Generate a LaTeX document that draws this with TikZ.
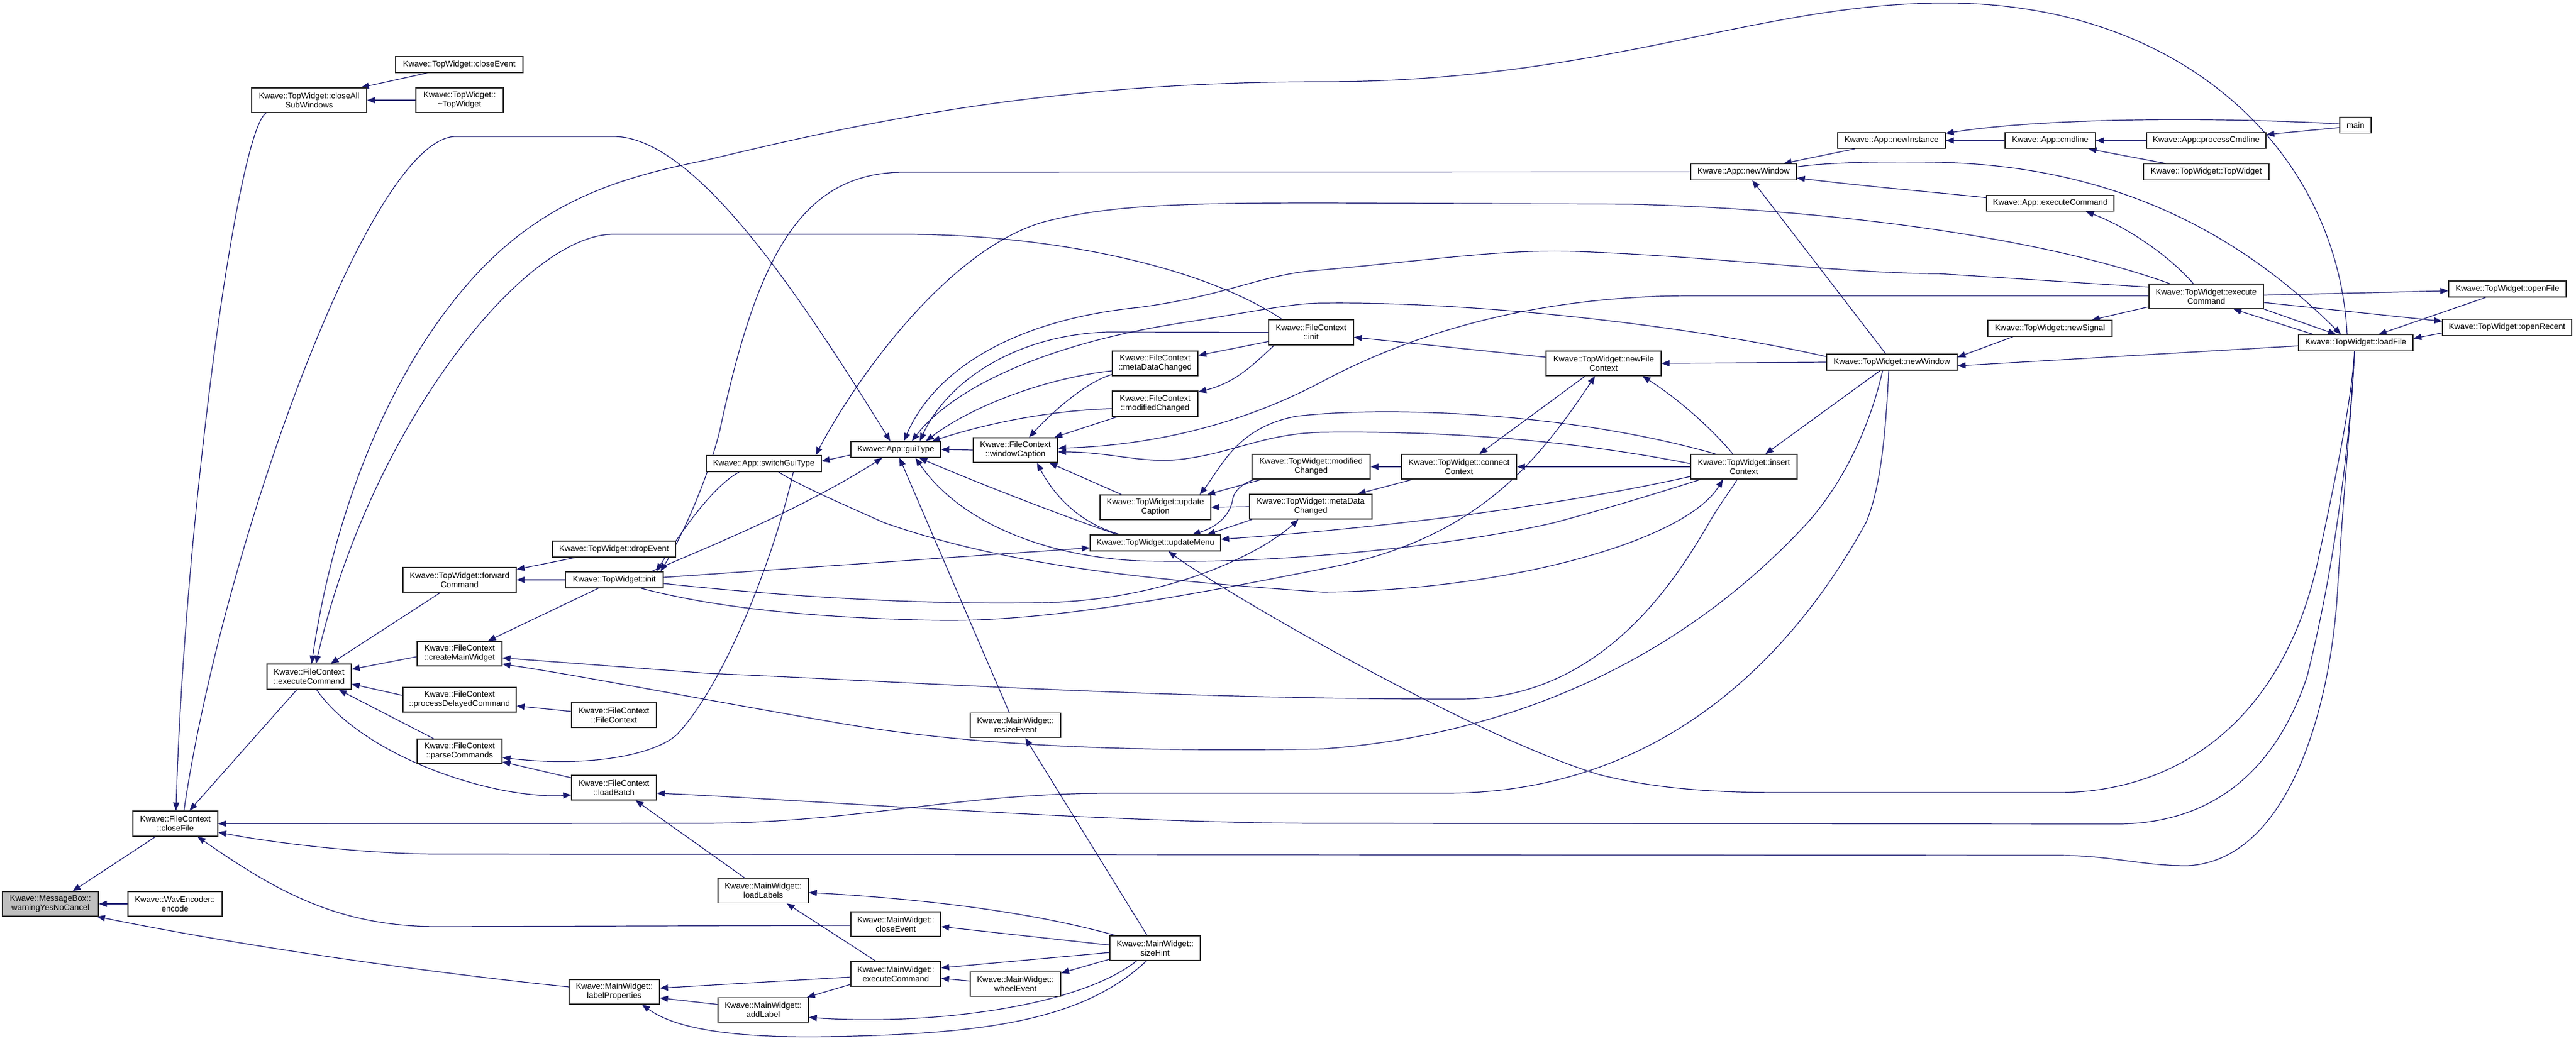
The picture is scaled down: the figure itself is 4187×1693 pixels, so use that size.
\documentclass[tikz,border=0pt]{standalone}
\usepackage{fontspec}
\setmainfont{Liberation Sans}
\usetikzlibrary{arrows.meta}
\definecolor{edgec}{HTML}{191970}
\definecolor{boxgray}{HTML}{BFBFBF}
\pgfdeclarelayer{background}
\pgfsetlayers{background,main}
\begin{document}
\begin{tikzpicture}[x=1pt,y=-1pt,
  box/.style={draw=black!85, line width=1.3pt, fill=white, inner sep=0pt, align=center, font=\fontsize{13.3}{15}\selectfont},
  edge/.style={draw=edgec, line width=1.2pt, {Triangle[length=13pt,width=10pt]}-}]
\useasboundingbox (0,0) rectangle (4187,1693);
% ---------------- nodes ----------------
\node[box,minimum width=156pt,minimum height=40pt,fill=boxgray] (mb) at (82,1470) {Kwave::MessageBox::\\warningYesNoCancel};
\node[box,minimum width=153pt,minimum height=40pt] (wav) at (284.5,1470) {Kwave::WavEncoder::\\encode};
\node[box,minimum width=138pt,minimum height=41pt] (closeFile) at (285,1339.5) {Kwave::FileContext\\::closeFile};
\node[box,minimum width=147pt,minimum height=40pt] (lp) at (998.5,1613) {Kwave::MainWidget::\\labelProperties};
\node[box,minimum width=187pt,minimum height=40pt] (closeAll) at (502.5,163) {Kwave::TopWidget::closeAll\\SubWindows};
\node[box,minimum width=207pt,minimum height=26pt] (twClose) at (746.5,105) {Kwave::TopWidget::closeEvent};
\node[box,minimum width=142pt,minimum height=40pt] (twDtor) at (747,163) {Kwave::TopWidget::\\\textasciitilde TopWidget};
\node[box,minimum width=137pt,minimum height=41pt] (fcExec) at (502.5,1100.5) {Kwave::FileContext\\::executeCommand};
\node[box,minimum width=184pt,minimum height=40pt] (fwd) at (747,943) {Kwave::TopWidget::forward\\Command};
\node[box,minimum width=200pt,minimum height=26pt] (drop) at (998,893) {Kwave::TopWidget::dropEvent};
\node[box,minimum width=159pt,minimum height=26pt] (twInit) at (998.5,943) {Kwave::TopWidget::init};
\node[box,minimum width=138pt,minimum height=40pt] (cmw) at (747,1063) {Kwave::FileContext\\::createMainWidget};
\node[box,minimum width=184pt,minimum height=40pt] (pdc) at (747,1138) {Kwave::FileContext\\::processDelayedCommand};
\node[box,minimum width=138pt,minimum height=40pt] (fcCtor) at (998,1163) {Kwave::FileContext\\::FileContext};
\node[box,minimum width=138pt,minimum height=40pt] (parse) at (747,1222) {Kwave::FileContext\\::parseCommands};
\node[box,minimum width=138pt,minimum height=40pt] (loadBatch) at (998,1281) {Kwave::FileContext\\::loadBatch};
\node[box,minimum width=187pt,minimum height=26pt] (switchGui) at (1241.5,754) {Kwave::App::switchGuiType};
\node[box,minimum width=146pt,minimum height=26pt] (guiType) at (1456,731) {Kwave::App::guiType};
\node[box,minimum width=137pt,minimum height=40pt] (winCap) at (1650.5,732) {Kwave::FileContext\\::windowCaption};
\node[box,minimum width=139pt,minimum height=40pt] (fcMeta) at (1877.5,591) {Kwave::FileContext\\::metaDataChanged};
\node[box,minimum width=139pt,minimum height=41pt] (fcMod) at (1877.5,656.5) {Kwave::FileContext\\::modifiedChanged};
\node[box,minimum width=138pt,minimum height=41pt] (fcInit) at (2131,540.5) {Kwave::FileContext\\::init};
\node[box,minimum width=180pt,minimum height=40pt] (updCap) at (1878,825) {Kwave::TopWidget::update\\Caption};
\node[box,minimum width=192pt,minimum height=40pt] (twMod) at (2131,759) {Kwave::TopWidget::modified\\Changed};
\node[box,minimum width=199pt,minimum height=40pt] (twMeta) at (2130.5,824) {Kwave::TopWidget::metaData\\Changed};
\node[box,minimum width=212pt,minimum height=26pt] (updMenu) at (1878,883) {Kwave::TopWidget::updateMenu};
\node[box,minimum width=147pt,minimum height=40pt] (resize) at (1650.5,1179.5) {Kwave::MainWidget::\\resizeEvent};
\node[box,minimum width=147pt,minimum height=40pt] (loadLabels) at (1240.5,1448.5) {Kwave::MainWidget::\\loadLabels};
\node[box,minimum width=146pt,minimum height=40pt] (mwClose) at (1456,1503) {Kwave::MainWidget::\\closeEvent};
\node[box,minimum width=147pt,minimum height=40pt] (sizeHint) at (1877.5,1542) {Kwave::MainWidget::\\sizeHint};
\node[box,minimum width=146pt,minimum height=40pt] (mwExec) at (1456,1584) {Kwave::MainWidget::\\executeCommand};
\node[box,minimum width=147pt,minimum height=40pt] (wheel) at (1650.5,1600.5) {Kwave::MainWidget::\\wheelEvent};
\node[box,minimum width=147pt,minimum height=40pt] (addLabel) at (1240.5,1642.5) {Kwave::MainWidget::\\addLabel};
\node[box,minimum width=172pt,minimum height=26pt] (appNewWin) at (2834,279.5) {Kwave::App::newWindow};
\node[box,minimum width=175pt,minimum height=26pt] (newInst) at (3074.5,228.5) {Kwave::App::newInstance};
\node[box,minimum width=187pt,minimum height=40pt] (newFC) at (2606.5,591) {Kwave::TopWidget::newFile\\Context};
\node[box,minimum width=212pt,minimum height=26pt] (twNewWin) at (3075,589) {Kwave::TopWidget::newWindow};
\node[box,minimum width=187pt,minimum height=40pt] (connCtx) at (2371.5,759) {Kwave::TopWidget::connect\\Context};
\node[box,minimum width=173pt,minimum height=40pt] (insCtx) at (2834.5,759) {Kwave::TopWidget::insert\\Context};
\node[box,minimum width=51pt,minimum height=26pt] (mainf) at (3828.5,203.5) {main};
\node[box,minimum width=147pt,minimum height=26pt] (cmdline) at (3332.5,228.5) {Kwave::App::cmdline};
\node[box,minimum width=194pt,minimum height=26pt] (procCmd) at (3586,228.5) {Kwave::App::processCmdline};
\node[box,minimum width=204pt,minimum height=26pt] (twCtor) at (3586,279.5) {Kwave::TopWidget::TopWidget};
\node[box,minimum width=207pt,minimum height=26pt] (appExec) at (3332.5,330.5) {Kwave::App::executeCommand};
\node[box,minimum width=186pt,minimum height=40pt] (twExec) at (3586,482) {Kwave::TopWidget::execute\\Command};
\node[box,minimum width=202pt,minimum height=26pt] (newSig) at (3332,534) {Kwave::TopWidget::newSignal};
\node[box,minimum width=186pt,minimum height=26pt] (loadFile) at (3829,557.5) {Kwave::TopWidget::loadFile};
\node[box,minimum width=191pt,minimum height=26pt] (openFile) at (4075.5,470) {Kwave::TopWidget::openFile};
\node[box,minimum width=210pt,minimum height=26pt] (openRecent) at (4075,532.5) {Kwave::TopWidget::openRecent};
% ---------------- edges ----------------
\begin{pgfonlayer}{background}
\fill[white] (0,0) rectangle (4187,1693);
% left part
\draw[edge] (mb.east) -- (wav.west);
\draw[edge] ([xshift=36pt]mb.north) -- ([xshift=-32pt]closeFile.south);
\draw[edge] ([xshift=-3pt]mb.south east) .. controls (400,1540) and (700,1582) .. ([yshift=8pt]lp.west);
\draw[edge] ([xshift=-10pt]closeAll.north east) -- ([xshift=-52pt]twClose.south);
\draw[edge] (closeAll.east) -- (twDtor.west);
\draw[edge] ([xshift=1pt]closeFile.north) .. controls (300,850) and (385,215) .. ([xshift=-70pt]closeAll.south);
\draw[edge] ([xshift=23pt]closeFile.north) -- ([xshift=-20pt]fcExec.south);
\draw[edge] ([xshift=-9pt]guiType.north) .. controls (1300,480) and (1130,222) .. (997,222) -- (741,222) .. controls (600,222) and (360,900) .. ([xshift=14pt]closeFile.north);
\draw[edge] ([xshift=4pt]fcExec.north) .. controls (540,850) and (620,640) .. (733,495) .. controls (860,330) and (1000,290) .. (1150,260) .. controls (1400,200) and (1700,133) .. (2150,133) .. controls (2600,133) and (2850,8) .. (3150,5) .. controls (3550,0) and (3800,250) .. ([xshift=-14pt]loadFile.north);
\draw[edge] ([xshift=11pt]fcExec.north) .. controls (600,700) and (850,381) .. (997,381) -- (1469,381) .. controls (1700,381) and (1950,430) .. ([xshift=-47pt]fcInit.north);
\draw[edge] ([xshift=35pt]fcExec.north) -- ([xshift=-31pt]fwd.south);
\draw[edge] ([yshift=12pt]fcExec.east) -- ([yshift=-5pt]cmw.west);
\draw[edge] ([yshift=-12pt]fcExec.east) -- ([yshift=7pt]pdc.west);
\draw[edge] ([xshift=48pt]fcExec.south) -- ([xshift=-42pt]parse.north);
\draw[edge] ([yshift=-12pt]loadBatch.west) .. controls (800,1300) and (590,1230) .. ([xshift=12pt]fcExec.south);
\draw[edge] ([yshift=17pt]fwd.east) -- ([xshift=-62pt]drop.south);
\draw[edge] (fwd.east) -- (twInit.west);
\draw[edge] ([xshift=46pt]cmw.north) -- ([xshift=-26pt]twInit.south);
\draw[edge] ([yshift=-10pt]pdc.east) -- ([yshift=6pt]fcCtor.west);
\draw[edge] ([yshift=-17pt]parse.east) -- ([yshift=16pt]loadBatch.west);
\draw[edge] ([yshift=-10pt]parse.east) .. controls (950,1248) and (1060,1230) .. (1100,1195) .. controls (1180,1110) and (1260,900) .. ([xshift=48pt]switchGui.south);
\draw[edge] ([xshift=35pt]loadBatch.south) -- ([xshift=-30pt]loadLabels.north);
% around TopWidget::init
\draw[edge] ([xshift=-5pt]twInit.north east) .. controls (1110,870) and (1150,780) .. (1170,700) .. controls (1230,420) and (1300,280) .. (1470,280) -- (appNewWin.west);
\draw[edge] ([xshift=-12pt]twInit.north east) .. controls (1110,860) and (1160,790) .. ([xshift=-40pt]switchGui.south);
\draw[edge] ([xshift=-22pt]guiType.south) .. controls (1300,830) and (1150,890) .. ([xshift=-20pt]twInit.north east);
\draw[edge] ([yshift=-8pt]updMenu.west) -- ([yshift=4pt]twInit.east);
\draw[edge] ([xshift=-20pt]twMeta.south) .. controls (2050,900) and (1900,975) .. (1700,980) .. controls (1450,985) and (1200,962) .. ([yshift=-6pt]twInit.east);
\draw[edge] ([xshift=-14pt]newFC.south) .. controls (2500,750) and (2400,880) .. (2150,925) .. controls (1900,975) and (1700,1010) .. (1533,1009) .. controls (1300,1005) and (1150,985) .. ([xshift=-37pt]twInit.south east);
% guiType
\draw[edge] ([yshift=4pt]switchGui.east) -- ([yshift=-9pt]guiType.west);
\draw[edge] (guiType.east) -- (winCap.west);
\draw[edge] ([xshift=13pt]guiType.north) .. controls (1520,600) and (1650,520) .. (1851,500) .. controls (2000,480) and (2050,445) .. (2150,439) .. controls (2350,420) and (2450,405) .. (2564,409) .. controls (2800,418) and (3000,445) .. (3150,445) -- ([yshift=15pt]twExec.west);
\draw[edge] ([xshift=26pt]guiType.north) .. controls (1550,630) and (1700,560) .. (1915,526) .. controls (2050,505) and (2100,493) .. (2150,493) .. controls (2400,490) and (2750,530) .. ([yshift=9pt]twNewWin.west);
\draw[edge] ([xshift=39pt]guiType.north) .. controls (1540,620) and (1650,545) .. (1800,540) -- (fcInit.west);
\draw[edge] ([xshift=49pt]guiType.north) .. controls (1580,660) and (1700,615) .. ([yshift=-12pt]fcMeta.west);
\draw[edge] ([xshift=59pt]guiType.north) .. controls (1600,690) and (1700,668) .. ([yshift=-8pt]fcMod.west);
\draw[edge] ([xshift=6pt]guiType.south) -- ([xshift=-10pt]resize.north);
\draw[edge] ([xshift=32pt]guiType.south) .. controls (1560,850) and (1700,905) .. (1850,912) .. controls (2100,920) and (2400,880) .. (2526,850) .. controls (2620,825) and (2700,800) .. ([xshift=-70pt]insCtx.south);
\draw[edge] ([xshift=38pt]guiType.south) .. controls (1600,790) and (1730,840) .. ([xshift=-62pt]updMenu.north);
\draw[edge] ([xshift=35pt]winCap.south) .. controls (1710,800) and (1750,850) .. ([xshift=-57pt]updMenu.north);
% switchGuiType
\draw[edge] ([xshift=-34pt]insCtx.south) .. controls (2740,880) and (2450,960) .. (2150,963) .. controls (1900,945) and (1650,925) .. (1437,850) .. controls (1370,820) and (1300,790) .. ([xshift=24pt]switchGui.south);
\draw[edge] ([xshift=-10pt]switchGui.north east) .. controls (1400,600) and (1550,400) .. (1700,360) .. controls (1800,335) and (1900,330) .. (2150,330) -- (2650,332) .. controls (2950,340) and (3300,380) .. ([xshift=-59pt]twExec.north);
% windowCaption / updateCaption / updateMenu
\draw[edge] ([yshift=3pt]winCap.east) .. controls (1850,725) and (2000,700) .. (2150,620) .. controls (2300,540) and (2500,481) .. (2750,481) -- ([yshift=1pt]twExec.west);
\draw[edge] ([yshift=-3pt]winCap.east) .. controls (1800,735) and (1850,752) .. (1909,748) .. controls (2000,740) and (2050,705) .. (2150,703) .. controls (2400,700) and (2600,725) .. ([yshift=5pt]insCtx.west);
\draw[edge] ([xshift=72pt]updCap.north) .. controls (1985,760) and (2010,695) .. (2107,677) .. controls (2250,660) and (2550,670) .. ([xshift=-46pt]insCtx.north);
\draw[edge] ([xshift=84pt]updCap.north) -- ([xshift=-80pt]twMod.south);
\draw[edge] (updCap.east) -- (twMeta.west);
\draw[edge] ([xshift=60pt]updMenu.north) .. controls (1975,858) and (2000,840) .. (2004,810) .. controls (2008,795) and (2025,783) .. ([xshift=-90pt]twMod.south);
\draw[edge] ([xshift=84pt]updMenu.north) -- ([xshift=-95pt]twMeta.south);
\draw[edge] (twMod.east) -- (connCtx.west);
\draw[edge] ([xshift=-24pt]twMeta.north east) -- ([xshift=-75pt]connCtx.south);
\draw[edge] (connCtx.east) -- (insCtx.west);
\draw[edge] ([xshift=33pt]connCtx.north) -- ([xshift=-30pt]newFC.south);
\draw[edge] ([xshift=35pt]insCtx.north) -- ([xshift=-19pt]twNewWin.south);
\draw[edge] ([xshift=63pt]newFC.south) .. controls (2730,650) and (2785,700) .. ([xshift=-18pt]insCtx.north);
\draw[edge] (newFC.east) -- (twNewWin.west);
\draw[edge] ([yshift=-8pt]fcInit.east) -- ([yshift=10pt]newFC.west);
\draw[edge] ([yshift=13pt]fcMeta.east) -- ([yshift=-15pt]fcInit.west);
\draw[edge] ([yshift=19pt]fcMod.east) .. controls (2010,622) and (2040,590) .. ([xshift=-60pt]fcInit.south);
\draw[edge] ([xshift=22pt]winCap.north) .. controls (1720,660) and (1770,620) .. ([yshift=-18pt]fcMeta.west);
\draw[edge] ([xshift=63pt]winCap.north) -- ([xshift=-61pt]fcMod.south);
\draw[edge] ([xshift=55pt]winCap.south) -- ([xshift=-55pt]updCap.north);
\draw[edge] ([yshift=6pt]updMenu.east) .. controls (2200,862) and (2500,830) .. ([yshift=-16pt]insCtx.west);
\draw[edge] ([xshift=21pt]updMenu.south) .. controls (2000,970) and (2400,1200) .. (2600,1260) .. controls (2700,1285) and (2800,1289) .. (2900,1289) -- (3344,1289) .. controls (3560,1289) and (3720,1150) .. (3770,900) .. controls (3800,760) and (3822,650) .. ([xshift=-2pt]loadFile.south);
% right part
\draw[edge] ([xshift=14pt]appNewWin.south) -- ([xshift=-10pt]twNewWin.north);
\draw[edge] ([xshift=65pt]appNewWin.north) -- ([xshift=-60pt]newInst.south);
\draw[edge] ([yshift=-10pt]appNewWin.east) .. controls (3050,305) and (3150,313) .. ([yshift=9pt]appExec.west);
\draw[edge] ([xshift=-24pt]loadFile.north) .. controls (3650,390) and (3450,270) .. (3150,264) .. controls (3050,262) and (2960,265) .. ([yshift=8pt]appNewWin.east);
\draw[edge] ([yshift=-2pt]newInst.north east) .. controls (3300,195) and (3550,188) .. ([yshift=2pt]mainf.west);
\draw[edge] ([yshift=-4pt]procCmd.north east) -- ([yshift=-4pt]mainf.west);
\draw[edge] (newInst.east) -- (cmdline.west);
\draw[edge] (cmdline.east) -- (procCmd.west);
\draw[edge] ([xshift=-12pt]cmdline.south east) -- ([xshift=-66pt]twCtor.north);
\draw[edge] ([xshift=58pt]appExec.south) .. controls (3460,370) and (3530,420) .. ([xshift=-21pt]twExec.north);
\draw[edge] ([xshift=68pt]newSig.north) -- ([yshift=-17pt]twExec.west);
\draw[edge] ([yshift=8pt]twNewWin.east) -- ([xshift=-60pt]newSig.south);
\draw[edge] ([yshift=-6pt]twNewWin.east) -- ([yshift=-5pt]loadFile.west);
\draw[edge] ([yshift=-3pt]openFile.west) -- ([yshift=2pt]twExec.east);
\draw[edge] ([yshift=10pt]openRecent.west) -- ([yshift=-10pt]twExec.east);
\draw[edge] ([xshift=37pt]loadFile.north) -- ([xshift=-35pt]openFile.south);
\draw[edge] ([yshift=7pt]loadFile.east) -- ([yshift=-9pt]openRecent.west);
\draw[edge] ([xshift=44pt]twExec.south) -- ([xshift=-69pt]loadFile.north);
\draw[edge] ([xshift=-32pt]loadFile.north) -- (twExec.south east);
% bottom part
\draw[edge] ([yshift=6pt]lp.east) -- ([yshift=-5pt]mwExec.west);
\draw[edge] ([yshift=-10pt]lp.east) -- ([yshift=9pt]addLabel.west);
\draw[edge] ([xshift=45pt]lp.south) .. controls (1100,1675) and (1200,1688) .. (1341,1686) .. controls (1600,1682) and (1760,1660) .. ([xshift=-14pt]sizeHint.south);
\draw[edge] ([yshift=-12pt]addLabel.east) .. controls (1500,1668) and (1750,1640) .. ([xshift=-30pt]sizeHint.south);
\draw[edge] ([xshift=-3pt]addLabel.north east) -- ([yshift=-17pt]mwExec.west);
\draw[edge] ([yshift=-3pt]loadLabels.east) .. controls (1550,1465) and (1700,1490) .. ([xshift=-64pt]sizeHint.north);
\draw[edge] ([xshift=38pt]loadLabels.south) -- ([xshift=-32pt]mwExec.north);
\draw[edge] ([yshift=-4pt]mwClose.east) -- ([yshift=5pt]sizeHint.west);
\draw[edge] ([yshift=10pt]mwExec.east) -- ([yshift=-7pt]sizeHint.west);
\draw[edge] ([yshift=-7pt]mwExec.east) -- ([yshift=5pt]wheel.west);
\draw[edge] ([yshift=18pt]wheel.east) -- ([yshift=-18pt]sizeHint.west);
\draw[edge] ([xshift=16pt]resize.south) -- ([xshift=-13pt]sizeHint.north);
\draw[edge] ([xshift=36pt]closeFile.south) .. controls (450,1450) and (550,1507) .. (712,1507) -- ([yshift=-2pt]mwClose.west);
% long lower connectors
\draw[edge] ([yshift=-14pt]closeFile.east) .. controls (450,1372) and (600,1389) .. (712,1389) -- (3344,1391) .. controls (3430,1391) and (3480,1408) .. (3555,1408) .. controls (3720,1400) and (3790,1150) .. (3800,950) .. controls (3812,760) and (3824,650) .. ([xshift=-2pt]loadFile.south);
\draw[edge] (closeFile.east) -- (1150,1339) .. controls (1400,1337) and (1550,1291) .. (1800,1290) -- (2350,1290) .. controls (2750,1290) and (2950,1000) .. (3033,850) .. controls (3058,790) and (3065,700) .. ([xshift=-5pt]twNewWin.south);
\draw[edge] ([yshift=-17pt]cmw.east) .. controls (950,1100) and (1100,1130) .. (1341,1172) .. controls (1550,1210) and (1800,1224) .. (2150,1218) .. controls (2400,1200) and (2700,1108) .. (2938,850) .. controls (3000,780) and (3040,690) .. ([xshift=-15pt]twNewWin.south);
\draw[edge] ([yshift=-7pt]cmw.east) -- (1150,1095) .. controls (1500,1110) and (1900,1137) .. (2373,1137) .. controls (2600,1137) and (2720,950) .. (2778,850) .. controls (2795,820) and (2815,795) .. ([xshift=-11pt]insCtx.south);
\draw[edge] ([yshift=-9pt]loadBatch.east) .. controls (1300,1300) and (1800,1339) .. (2150,1339) -- (3446,1340) .. controls (3600,1338) and (3700,1250) .. (3750,1100) .. controls (3800,900) and (3820,700) .. ([xshift=-2pt]loadFile.south);
\end{pgfonlayer}
\end{tikzpicture}
\end{document}
